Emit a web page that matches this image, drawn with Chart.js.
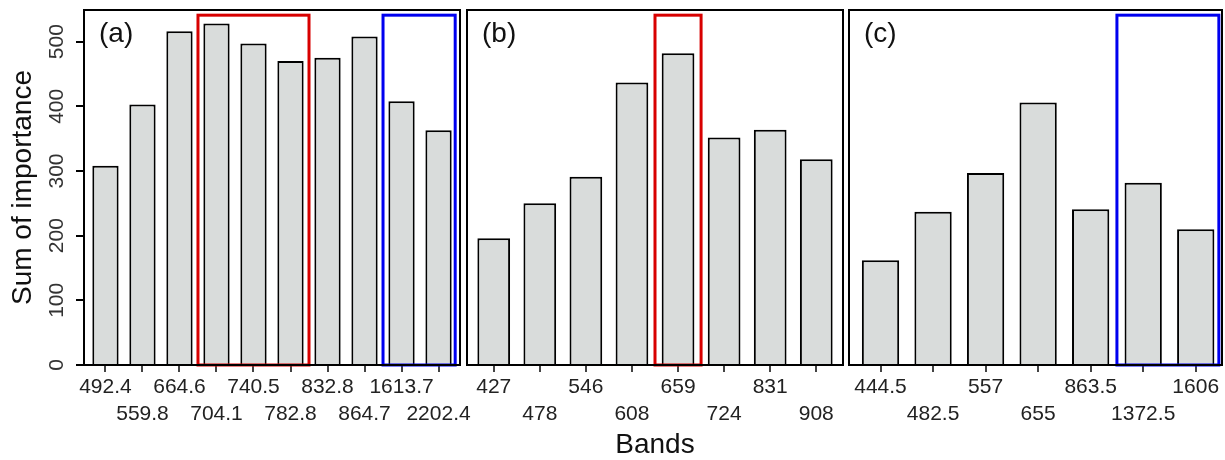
<!DOCTYPE html>
<html>
<head>
<meta charset="utf-8">
<script src="https://cdn.jsdelivr.net/npm/chart.js@4"></script>
<style>
  body { margin: 0; background: #fff; }
  #wrap { position: relative; width: 1225px; height: 460px; }
  .panel { position: absolute; top: 0; height: 460px; }
</style>
</head>
<body>
<div id="wrap">
  <div class="panel" style="left:0;width:480px"><canvas id="chartA"></canvas></div>
  <div class="panel" style="left:455px;width:400px"><canvas id="chartB"></canvas></div>
  <div class="panel" style="left:838px;width:387px"><canvas id="chartC"></canvas></div>
</div>
<script>
// bands (tick labels) and summed importance per panel
const bandsA = ['492.4', '559.8', '664.6', '704.1', '740.5', '782.8', '832.8', '864.7', '1613.7', '2202.4'];
const valuesA = [308, 403, 516, 528, 497, 470, 475, 508, 408, 363];
const bandsB = ['427', '478', '546', '608', '659', '724', '831', '908'];
const valuesB = [196, 250, 291, 437, 482, 352, 364, 318];
const bandsC = ['444.5', '482.5', '557', '655', '863.5', '1372.5', '1606'];
const valuesC = [162, 237, 297, 406, 241, 282, 210];

// highlighted band ranges (in bar index units) and the y value of their top edge
const redA = [2.5, 5.5];
const blueA = [7.5, 9.45];
const redB = [3.5, 4.5];
const blueC = [4.5, 6.44];
const boxTop = 541;

const yTicks = [0, 100, 200, 300, 400, 500];
const yMax = 549;

Chart.defaults.font.family = "'Liberation Sans', Arial, sans-serif";
Chart.defaults.color = '#222';

const frame = {
  id: 'frame',
  afterDatasetsDraw(chart, args, opts) {
    const {ctx, scales: {x, y}} = chart;
    ctx.save();
    ctx.lineWidth = 3;
    (opts.boxes || []).forEach(b => {
      ctx.strokeStyle = b.color;
      const l = x.getPixelForValue(b.range[0]);
      const r = x.getPixelForValue(b.range[1]);
      const t = y.getPixelForValue(boxTop);
      const btm = y.getPixelForValue(0);
      ctx.strokeRect(l, t, r - l, btm - t);
    });
    ctx.restore();
  },
  afterDraw(chart, args, opts) {
    const {ctx, chartArea: a} = chart;
    ctx.save();
    ctx.strokeStyle = '#000';
    ctx.lineWidth = 2;
    ctx.strokeRect(a.left, a.top, a.right - a.left, a.bottom - a.top);
    ctx.fillStyle = '#111';
    ctx.font = "28px 'Liberation Sans', Arial, sans-serif";
    ctx.textBaseline = 'middle';
    ctx.fillText(opts.tag, a.left + 15, a.top + 24);
    ctx.restore();
  }
};

function makePanel(id, bands, values, opt) {
  const xScale = {
    type: 'linear',
    offset: false,
    min: opt.xMin,
    max: bands.length - 1 + opt.xMax,
    grid: { offset: false, drawOnChartArea: false, drawTicks: true, tickLength: 7, color: '#444', lineWidth: 2 },
    border: { display: false },
    afterBuildTicks: s => { s.ticks = bands.map((b, i) => ({value: i})); },
    ticks: {
      autoSkip: false,
      maxRotation: 0,
      padding: 2,
      color: '#222',
      font: { size: 21, lineHeight: 1.27 },
      callback: v => Number.isInteger(v) ? (v % 2 === 0 ? [bands[v], ''] : ['', bands[v]]) : ''
    },
    title: opt.xTitle ? {
      display: true, text: 'Bands', color: '#111',
      font: { size: 28, lineHeight: 1.07 }, padding: 0
    } : { display: false },
    afterFit: s => { s.height = 95; s.paddingLeft = 0; s.paddingRight = 0; }
  };
  const yScale = {
    min: 0,
    max: yMax,
    display: opt.yAxis,
    afterBuildTicks: s => { s.ticks = yTicks.map(v => ({value: v})); },
    grid: { drawOnChartArea: false, drawTicks: true, tickLength: 8, color: '#000', lineWidth: 2 },
    border: { display: false },
    ticks: {
      minRotation: 90, maxRotation: 90, crossAlign: 'center', padding: 1,
      color: '#333', font: { size: 21 }
    },
    title: {
      display: opt.yAxis, text: 'Sum of importance', color: '#111',
      font: { size: 28, lineHeight: 1.2 }, padding: { top: 6, bottom: 0 }
    },
    afterFit: s => { if (opt.yAxis) s.width = 84; s.paddingTop = 0; s.paddingBottom = 0; }
  };
  return new Chart(document.getElementById(id), {
    type: 'bar',
    data: {
      datasets: [{
        data: values.map((v, i) => ({x: i, y: v})),
        backgroundColor: '#d9dcdb',
        borderColor: '#000',
        borderWidth: 2,
        barPercentage: 0.71,
        categoryPercentage: 1
      }]
    },
    options: {
      responsive: true,
      maintainAspectRatio: false,
      animation: false,
      layout: { padding: opt.padding },
      scales: { x: xScale, y: yScale },
      plugins: {
        legend: { display: false },
        tooltip: { enabled: false },
        frame: { tag: opt.tag, boxes: opt.boxes }
      }
    },
    plugins: [frame]
  });
}

makePanel('chartA', bandsA, valuesA, {
  tag: '(a)', yAxis: true, xTitle: false, xMin: -0.58, xMax: 0.58,
  padding: { left: 0, right: 20, top: 10, bottom: 0 },
  boxes: [{range: redA, color: '#d80000'}, {range: blueA, color: '#0000f0'}]
});
makePanel('chartB', bandsB, valuesB, {
  tag: '(b)', yAxis: false, xTitle: true, xMin: -0.58, xMax: 0.58,
  padding: { left: 12, right: 12, top: 10, bottom: 0 },
  boxes: [{range: redB, color: '#d80000'}]
});
makePanel('chartC', bandsC, valuesC, {
  tag: '(c)', yAxis: false, xTitle: false, xMin: -0.6, xMax: 0.5,
  padding: { left: 11, right: 3, top: 10, bottom: 0 },
  boxes: [{range: blueC, color: '#0000f0'}]
});
</script>
</body>
</html>
